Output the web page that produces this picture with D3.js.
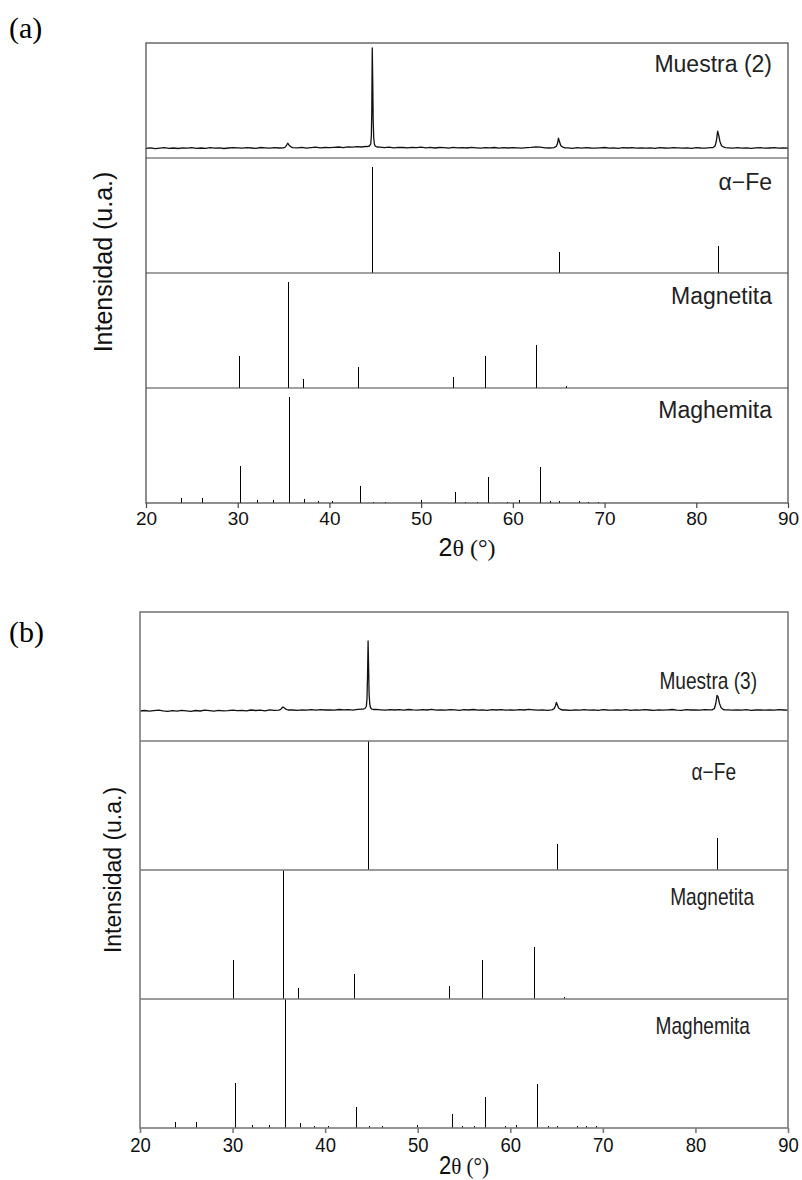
<!DOCTYPE html>
<html>
<head>
<meta charset="utf-8">
<script src="https://cdn.jsdelivr.net/npm/d3@7"></script>
<style>
  body { margin: 0; background: #fff; }
  svg { display: block; }
</style>
</head>
<body>
<svg id="chart" width="802" height="1180"></svg>
<script>
// x axis ticks (2 theta, degrees)
const ticks2Theta = [20, 30, 40, 50, 60, 70, 80, 90];

// reference patterns: [2theta, relative intensity]
const alphaFe = [[44.67, 100], [65.02, 20], [82.33, 25]];
const magnetita = [
  [30.1, 30], [35.45, 100], [37.07, 8.5], [43.08, 19.5],
  [53.42, 10], [56.96, 30], [62.54, 40], [65.75, 1.5]
];
const maghemita = [
  [23.77, 5], [26.1, 5], [30.24, 35], [32.15, 2.5], [33.9, 2.5],
  [35.63, 100], [37.25, 3.5], [38.8, 1.5], [40.3, 1.5], [43.28, 16],
  [44.7, 1.2], [46.1, 1.2], [49.95, 2.5], [53.73, 10.5], [54.8, 1.2],
  [56.1, 1.2], [57.27, 24], [59.4, 1.2], [60.65, 2.5], [62.93, 34],
  [64.05, 1.5], [65.0, 1.5], [67.2, 1.5], [68.2, 1.2], [69.3, 1.2]
];

// measured scans: background counts every 0.5 deg from 20 to 90,
// peak regions given point by point
const muestra2Base = [
  96, 101, 94, 99, 103, 97, 100, 95, 102, 98, 104, 97, 100, 96, 103, 99, 101, 95, 100, 104, 102,
  99, 104, 100, 97, 105, 101, 98, 103, 100, 104,
  140, 110, 102, 106, 99, 104, 108, 101, 105, 103,
  107, 110, 104, 112, 108, 113, 110, 116,
  130, 118,
  108, 104, 109, 102, 107, 105, 101, 106, 103, 108,
  102, 106, 100, 105, 103, 99, 107, 101, 104, 100, 106, 102, 98, 104, 101, 105, 99, 103, 100, 104,
  101, 98, 104, 106, 112, 108, 102, 100, 104,
  200, 110,
  101, 97, 103, 99, 104, 100, 98, 102, 105, 99, 101, 97, 103, 100, 104, 98, 102, 99, 101, 96,
  103, 100, 98, 104, 101, 99, 102, 97, 103, 100, 99, 104, 102,
  230, 112,
  101, 98, 103, 99, 102, 97, 101, 104, 98, 100, 103, 99, 101, 98
];
const muestra2Peaks = [
  [[35.0, 102], [35.2, 110], [35.35, 132], [35.45, 148], [35.6, 128], [35.8, 112], [36.0, 104]],
  [[44.1, 114], [44.35, 120], [44.5, 138], [44.57, 220], [44.62, 480], [44.67, 1100], [44.72, 780],
   [44.77, 380], [44.83, 200], [44.9, 140], [45.0, 118], [45.2, 110]],
  [[64.5, 104], [64.75, 118], [64.88, 150], [64.97, 198], [65.08, 165], [65.22, 125], [65.45, 108], [65.7, 102]],
  [[81.8, 103], [82.05, 120], [82.2, 175], [82.33, 268], [82.45, 225], [82.58, 165], [82.75, 122], [83.0, 108], [83.2, 103]]
];

const muestra3Base = [
  300, 305, 298, 303, 308, 301, 296, 304, 299, 306, 302, 297, 305, 300, 308, 303, 299, 306, 301, 304, 309,
  303, 307, 301, 310, 305, 308, 302, 311, 306, 309,
  338, 318, 310, 306, 312, 308, 314, 309, 313, 310,
  312, 308, 315, 311, 314, 309, 316, 318,
  330, 320,
  316, 312, 309, 314, 310, 313, 308, 315, 311, 309,
  313, 310, 316, 309, 312, 308, 314, 311, 307, 313, 310, 315, 309, 312, 306, 313, 310, 314, 308, 311,
  309, 313, 310, 316, 312, 308, 311, 307, 312,
  380, 318,
  310, 306, 312, 309, 313, 308, 311, 307, 314, 310, 308, 312, 309, 313, 306, 311, 309, 314, 310, 307,
  312, 308, 311, 315, 309, 306, 313, 310, 312, 308, 314, 311, 313,
  440, 316,
  311, 308, 312, 309, 313, 307, 310, 312, 308, 311, 309, 313, 310, 308
];
const muestra3Peaks = [
  [[35.0, 309], [35.2, 316], [35.35, 332], [35.45, 340], [35.6, 330], [35.8, 316], [36.0, 310]],
  [[44.1, 318], [44.3, 325], [44.45, 345], [44.52, 420], [44.58, 650], [44.64, 1000], [44.69, 760],
   [44.75, 470], [44.82, 370], [44.9, 335], [45.0, 322], [45.2, 315]],
  [[64.5, 311], [64.75, 325], [64.88, 352], [64.98, 385], [65.08, 362], [65.22, 330], [65.45, 315], [65.7, 310]],
  [[81.8, 311], [82.05, 325], [82.2, 375], [82.33, 455], [82.45, 440], [82.6, 375], [82.78, 332], [83.0, 315], [83.2, 311]]
];

const SANS = "'Liberation Sans', Arial, Helvetica, sans-serif";
const SERIF = "'Liberation Serif', 'Times New Roman', serif";

function mergeScan(base, peaks) {
  const ranges = peaks.map(p => [p[0][0], p[p.length - 1][0]]);
  const pts = base
    .map((v, i) => [20 + i * 0.5, v])
    .filter(([x]) => !ranges.some(([a, b]) => x >= a && x <= b));
  return pts.concat(...peaks).sort((a, b) => a[0] - b[0]);
}

const svg = d3.select("#chart");

function drawFigure(cfg) {
  const g = svg.append("g");
  const x = d3.scaleLinear().domain([20, 90]).range([cfg.left, cfg.right]);
  const panelH = (cfg.bottom - cfg.top) / 4;
  const tops = d3.range(4).map(i => cfg.top + i * panelH);

  // scan in the first panel
  const yScan = d3.scaleLinear().domain([0, cfg.scanMax]).range([tops[0] + panelH, tops[0]]);
  g.append("path")
    .datum(mergeScan(cfg.scanBase, cfg.scanPeaks))
    .attr("fill", "none")
    .attr("stroke", "#111")
    .attr("stroke-width", 1.3)
    .attr("stroke-linejoin", "round")
    .attr("d", d3.line().x(d => x(d[0])).y(d => yScan(d[1])));

  // stick patterns
  [alphaFe, magnetita, maghemita].forEach((pattern, i) => {
    const top = tops[i + 1];
    const y = d3.scaleLinear().domain([0, cfg.stickMax]).range([top + panelH, top]);
    g.selectAll(null)
      .data(pattern)
      .join("line")
      .attr("x1", d => Math.round(x(d[0])) + 0.5)
      .attr("x2", d => Math.round(x(d[0])) + 0.5)
      .attr("y1", y(0))
      .attr("y2", d => y(d[1]))
      .attr("stroke", "#000")
      .attr("stroke-width", 1)
      .attr("shape-rendering", "crispEdges");
  });

  // frame and separators
  g.append("rect")
    .attr("x", cfg.left).attr("y", cfg.top)
    .attr("width", cfg.right - cfg.left).attr("height", cfg.bottom - cfg.top)
    .attr("fill", "none").attr("stroke", cfg.frameColor).attr("stroke-width", cfg.frameWidth);
  g.selectAll(null)
    .data(tops.slice(1))
    .join("line")
    .attr("x1", cfg.left).attr("x2", cfg.right)
    .attr("y1", d => d).attr("y2", d => d)
    .attr("stroke", cfg.frameColor).attr("stroke-width", cfg.frameWidth);

  // labels in each panel
  cfg.labels.forEach((lab, i) => {
    g.append("text")
      .attr("transform", `translate(${lab.x},${tops[i] + lab.dy}) scale(${cfg.labelSx},1)`)
      .attr("text-anchor", "end")
      .attr("dominant-baseline", "central")
      .attr("font-family", SANS)
      .attr("font-size", cfg.labelSize)
      .attr("fill", "#222")
      .text(lab.text);
  });

  // x axis
  const ax = g.append("g")
    .attr("transform", `translate(0,${cfg.bottom})`)
    .call(d3.axisBottom(x).tickValues(ticks2Theta).tickSize(5).tickPadding(4).tickFormat(d3.format("d")));
  ax.select(".domain").remove();
  ax.selectAll(".tick line").attr("stroke", cfg.frameColor).attr("stroke-width", cfg.frameWidth);
  ax.selectAll(".tick text")
    .attr("font-family", SANS)
    .attr("font-size", cfg.tickSize)
    .attr("transform", `scale(${cfg.tickSx},1)`)
    .attr("fill", "#111");

  // x title
  const xt = g.append("text")
    .attr("transform", `translate(${(cfg.left + cfg.right) / 2},${cfg.xTitleY}) scale(${cfg.tickSx},1)`)
    .attr("text-anchor", "middle")
    .attr("fill", "#111");
  xt.append("tspan").attr("font-family", SANS).attr("font-size", 25).text("2");
  xt.append("tspan").attr("font-family", SERIF).attr("font-size", 24).text("θ (°)");

  // y title
  g.append("text")
    .attr("transform", `translate(${cfg.yTitleX},${(cfg.top + cfg.bottom) / 2 + cfg.yTitleShift}) rotate(-90)`)
    .attr("text-anchor", "middle")
    .attr("dominant-baseline", "central")
    .attr("font-family", SANS)
    .attr("font-size", cfg.yTitleSize)
    .attr("fill", "#111")
    .text("Intensidad (u.a.)");

  // figure tag
  g.append("text")
    .attr("x", 9).attr("y", cfg.tagY)
    .attr("font-family", SERIF)
    .attr("font-size", 30)
    .attr("fill", "#000")
    .text(cfg.tag);
}

drawFigure({
  tag: "(a)", tagY: 38,
  left: 146, right: 788, top: 43, bottom: 503,
  frameColor: "#444", frameWidth: 1.2,
  scanBase: muestra2Base, scanPeaks: muestra2Peaks, scanMax: 1150, stickMax: 108,
  labelSize: 23, labelSx: 1,
  labels: [
    { text: "Muestra (2)", x: 772, dy: 21 },
    { text: "α−Fe", x: 772, dy: 24 },
    { text: "Magnetita", x: 772, dy: 23 },
    { text: "Maghemita", x: 772, dy: 22 }
  ],
  tickSize: 19, tickSx: 1,
  xTitleY: 556, yTitleX: 103, yTitleShift: -11, yTitleSize: 25
});

drawFigure({
  tag: "(b)", tagY: 642,
  left: 140, right: 788, top: 612, bottom: 1128,
  frameColor: "#7a7a7a", frameWidth: 1.6,
  scanBase: muestra3Base, scanPeaks: muestra3Peaks, scanMax: 1290, stickMax: 100,
  labelSize: 23, labelSx: 0.83,
  labels: [
    { text: "Muestra (3)", x: 757, dy: 69 },
    { text: "α−Fe", x: 736, dy: 31 },
    { text: "Magnetita", x: 754, dy: 27 },
    { text: "Maghemita", x: 750, dy: 27 }
  ],
  tickSize: 21, tickSx: 0.88,
  xTitleY: 1174, yTitleX: 113, yTitleShift: 0, yTitleSize: 23
});
</script>
</body>
</html>
